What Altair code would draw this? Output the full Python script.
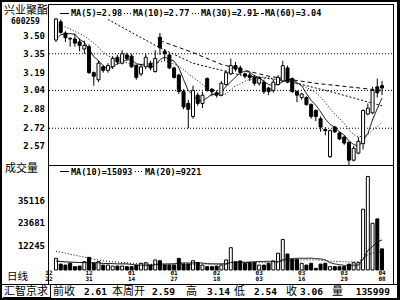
import altair as alt
import pandas as pd

# ---- daily candles (2004-12-22 .. 2005-04-08) ----
opens = [3.466, 3.62, 3.525, 3.48, 3.475, 3.45, 3.39, 3.41, 3.19, 3.13,
         3.24, 3.21, 3.24, 3.32, 3.27, 3.34, 3.33, 3.25, 3.18, 3.24,
         3.27, 3.20, 3.49, 3.37, 3.34, 3.23, 3.17, 3.03, 2.93, 2.82,
         3.00, 2.93, 3.14, 3.05, 3.02, 3.00, 3.09, 3.18, 3.25, 3.23,
         3.18, 3.17, 3.15, 3.10, 3.11, 3.06, 3.04, 3.09, 3.12, 3.23,
         3.14, 3.03, 2.98, 2.98, 2.92, 2.87, 2.80, 2.71, 2.48, 2.73,
         2.68, 2.645, 2.60, 2.45, 2.51, 2.59, 2.84, 2.85, 3.07, 3.08]
highs = [3.65, 3.64, 3.54, 3.49, 3.52, 3.48, 3.46, 3.43, 3.20, 3.29,
         3.25, 3.27, 3.33, 3.34, 3.38, 3.36, 3.35, 3.26, 3.26, 3.35,
         3.29, 3.38, 3.525, 3.39, 3.36, 3.24, 3.18, 3.05, 2.96, 3.08,
         3.02, 3.03, 3.15, 3.06, 3.04, 3.12, 3.21, 3.31, 3.28, 3.25,
         3.19, 3.19, 3.17, 3.16, 3.13, 3.07, 3.13, 3.17, 3.29, 3.25,
         3.15, 3.04, 3.02, 2.99, 2.93, 2.88, 2.82, 2.73, 2.71, 2.74,
         2.69, 2.66, 2.61, 2.57, 2.645, 2.88, 2.93, 3.07, 3.14, 3.12]
lows = [3.45, 3.52, 3.45, 3.41, 3.41, 3.37, 3.35, 3.18, 3.08, 3.11,
        3.19, 3.19, 3.22, 3.26, 3.26, 3.29, 3.23, 3.13, 3.16, 3.22,
        3.21, 3.19, 3.34, 3.29, 3.22, 3.14, 3.01, 2.88, 2.72, 2.80,
        2.91, 2.89, 3.03, 2.99, 2.98, 2.99, 3.08, 3.17, 3.20, 3.17,
        3.14, 3.12, 3.08, 3.08, 3.01, 3.00, 3.02, 3.08, 3.11, 3.10,
        3.02, 2.94, 2.96, 2.91, 2.80, 2.78, 2.69, 2.66, 2.47, 2.68,
        2.62, 2.58, 2.41, 2.44, 2.50, 2.54, 2.83, 2.84, 2.98, 3.00]
closes = [3.644, 3.53, 3.485, 3.475, 3.44, 3.42, 3.42, 3.19, 3.16, 3.27,
          3.21, 3.25, 3.31, 3.28, 3.35, 3.31, 3.24, 3.15, 3.24, 3.32,
          3.23, 3.31, 3.40, 3.35, 3.23, 3.15, 3.03, 2.90, 2.88, 3.04,
          2.93, 3.00, 3.04, 3.03, 3.00, 3.10, 3.19, 3.25, 3.22, 3.19,
          3.16, 3.15, 3.10, 3.14, 3.03, 3.03, 3.11, 3.15, 3.25, 3.11,
          3.03, 3.00, 3.01, 2.92, 2.82, 2.82, 2.73, 2.70, 2.70, 2.69,
          2.63, 2.595, 2.45, 2.55, 2.61, 2.87, 2.89, 3.04, 3.02, 3.06]
volumes = [5900, 3000, 2500, 3400, 1700, 2000, 4200, 6400, 3400, 4200,
           2500, 2500, 2000, 2000, 2000, 1700, 1700, 2500, 3400, 3700,
           2500, 5100, 4700, 2500, 2500, 2500, 5900, 3000, 3000, 4700,
           3700, 2500, 1700, 1700, 2000, 2500, 5100, 11300, 4200, 4600,
           3400, 3700, 3700, 2500, 2500, 3400, 4600, 8500, 15500, 8100,
           5400, 5400, 3400, 2500, 3400, 850, 3000, 3400, 1700, 1700,
           1700, 1700, 3000, 3700, 3700, 30800, 47400, 23700, 25900, 10700]

# moving-average values at the start of the window (they use earlier days)
ma5_early = [3.47, 3.51, 3.52, 3.52]
ma10_early = [3.60, 3.59, 3.575, 3.56, 3.54, 3.52, 3.50, 3.47, 3.44]
vma10_early = [4500, 4300, 4100, 4000, 3900, 3800, 3750, 3700, 3700]
vma20_early = [9500, 9000, 8500, 8000, 7500, 7000, 6500, 6000, 5500, 5000,
               4700, 4400, 4200, 4000, 3800, 3600, 3400, 3300, 3200]
# longer averages
ma30_idx = [11, 16, 22, 29, 39, 49, 59, 69]
ma30_val = [3.64, 3.53, 3.40, 3.27, 3.17, 3.12, 3.02, 2.91]
ma60_idx = [22, 29, 35, 45, 55, 62, 69]
ma60_val = [3.46, 3.36, 3.26, 3.16, 3.10, 3.07, 3.04]

# axis labels
price_ticks = [3.50, 3.35, 3.19, 3.04, 2.88, 2.72, 2.57]
price_grid = [3.35, 3.04, 2.72]
vol_ticks = [35116, 23681, 12245]
date_idx = [-1.5, 7, 16, 25, 34, 43, 52, 61, 69]
date_mon = ["12", "12", "01", "01", "02", "03", "03", "03", "04"]
date_day = ["22", "31", "14", "27", "18", "03", "16", "29", "08"]

df = pd.DataFrame({"i": list(range(len(closes))), "open": opens, "high": highs,
                   "low": lows, "close": closes, "vol": volumes})
c = pd.Series(closes)
v = pd.Series(volumes, dtype=float)
df["ma5"] = c.rolling(5).mean()
df.loc[:len(ma5_early) - 1, "ma5"] = ma5_early
df["ma10"] = c.rolling(10).mean()
df.loc[:len(ma10_early) - 1, "ma10"] = ma10_early
df["vma10"] = v.rolling(10).mean()
df.loc[:len(vma10_early) - 1, "vma10"] = vma10_early
df["vma20"] = v.rolling(20).mean()
df.loc[:len(vma20_early) - 1, "vma20"] = vma20_early

ma30 = pd.DataFrame({"i": ma30_idx, "v": ma30_val})
ma60 = pd.DataFrame({"i": ma60_idx, "v": ma60_val})
ptick = pd.DataFrame({"p": price_ticks})
pgrid = pd.DataFrame({"p": price_grid})
vtick = pd.DataFrame({"v": vol_ticks})
dates = pd.DataFrame({"i": date_idx, "m": date_mon, "d": date_day})
one = pd.DataFrame({"a": [0]})

MONO = "DejaVu Sans Mono"
CJK = "Noto Sans CJK SC"

xs = alt.Scale(domain=[-10.79, 71.75], nice=False, zero=False)
ps = alt.Scale(domain=[2.57, 3.50], range=[146, 36], nice=False, zero=False)
vs = alt.Scale(domain=[0, 35116], range=[270, 200.7], nice=False, zero=False)
X = alt.X("i:Q", scale=xs, axis=None)

up = "datum.close >= datum.open"

wick = alt.Chart(df).mark_rule(color="black", strokeWidth=1).encode(
    x=X, y=alt.Y("low:Q", scale=ps, axis=None), y2="high:Q")
body = alt.Chart(df).mark_bar(size=3, stroke="black", strokeWidth=1).encode(
    x=X, y=alt.Y("open:Q", scale=ps, axis=None), y2="close:Q",
    fill=alt.condition(up, alt.value("white"), alt.value("black")))


def line(data, field, scale, dash):
    return alt.Chart(data).mark_line(color="black", strokeWidth=1, strokeDash=dash).encode(
        x=X, y=alt.Y(f"{field}:Q", scale=scale, axis=None))


ma5_l = line(df, "ma5", ps, [1, 0])
ma10_l = line(df, "ma10", ps, [1, 2])
ma30_l = line(ma30, "v", ps, [2, 2])
ma60_l = line(ma60, "v", ps, [4, 3])

grid = alt.Chart(pgrid).mark_rule(color="black", strokeWidth=1, strokeDash=[1, 2]).encode(
    y=alt.Y("p:Q", scale=ps, axis=None), x=alt.value(49), x2=alt.value(392))

plab = alt.Chart(ptick).mark_text(align="right", baseline="middle", font=MONO,
                                  fontWeight="bold", fontSize=9).encode(
    y=alt.Y("p:Q", scale=ps, axis=None), x=alt.value(45),
    text=alt.Text("p:Q", format=".2f"))

vbar = alt.Chart(df).mark_bar(size=3, stroke="black", strokeWidth=1).encode(
    x=X, y=alt.Y("vol:Q", scale=vs, axis=None),
    fill=alt.condition(up, alt.value("white"), alt.value("black")))

vma10_l = line(df, "vma10", vs, [1, 0])
vma20_l = line(df, "vma20", vs, [1, 2])

vlab = alt.Chart(vtick).mark_text(align="right", baseline="middle", font=MONO,
                                  fontWeight="bold", fontSize=9).encode(
    y=alt.Y("v:Q", scale=vs, axis=None), x=alt.value(45), text="v:Q")

dm = alt.Chart(dates).mark_text(align="center", baseline="middle", font=MONO,
                                fontWeight="bold", fontSize=6).encode(
    x=X, y=alt.value(273), text="m:N")
dd = alt.Chart(dates).mark_text(align="center", baseline="middle", font=MONO,
                                fontWeight="bold", fontSize=6).encode(
    x=X, y=alt.value(279), text="d:N")


def txt(s, x, y, font=MONO, size=8.5, weight="bold", align="left"):
    return alt.Chart(one).mark_text(align=align, baseline="middle", font=font,
                                    fontSize=size, fontWeight=weight).encode(
        x=alt.value(x), y=alt.value(y), text=alt.value(s))


def hline(x1, x2, y, w=1, dash=(1, 0)):
    return alt.Chart(one).mark_rule(color="black", strokeWidth=w, strokeDash=list(dash)).encode(
        x=alt.value(x1), x2=alt.value(x2), y=alt.value(y))


def vline(x, y1, y2, w=1):
    return alt.Chart(one).mark_rule(color="black", strokeWidth=w).encode(
        x=alt.value(x), y=alt.value(y1), y2=alt.value(y2))


frame = [
    hline(0, 400, 1, 2), hline(0, 400, 299, 2), vline(1, 0, 300, 2), vline(398.5, 0, 300, 3),
    hline(48, 394, 4.5), vline(393.5, 4, 284), vline(48.5, 4, 284),
    hline(48, 394, 165.5), hline(0, 400, 284.5),
    vline(50.5, 284, 298), hline(3, 51, 297.5),
]

# legend line samples
keys = [
    hline(60, 69, 13.5), hline(124, 132, 13.5, dash=(1, 2)),
    hline(192, 200, 13.5, dash=(1, 2)), hline(256, 264, 13.5, dash=(3, 2)),
    hline(60, 69, 171.5), hline(135, 143, 171.5, dash=(1, 2)),
]

texts = [
    txt("兴业聚酯", 4, 11, font=CJK, size=11, weight="normal"),
    txt("600259", 11, 22, size=8),
    txt("MA(5)=2.98", 71, 13),
    txt("MA(10)=2.77", 133, 13),
    txt("MA(30)=2.91", 201, 13),
    txt("MA(60)=3.04", 265, 13),
    txt("成交量", 5, 169, font=CJK, size=11, weight="normal"),
    txt("MA(10)=15093", 71, 172),
    txt("MA(20)=9221", 145, 172),
    txt("日线", 7, 276.5, font=CJK, size=10.5, weight="normal"),
    txt("汇智京求", 4, 291.5, font=CJK, size=11, weight="normal"),
    txt("前收", 53, 291.5, font=CJK, size=11, weight="normal"),
    txt("2.61", 107, 291.5, size=9.5, align="right"),
    txt("本周开", 112, 291.5, font=CJK, size=11, weight="normal"),
    txt("2.59", 175, 291.5, size=9.5, align="right"),
    txt("高", 186, 291.5, font=CJK, size=11, weight="normal"),
    txt("3.14", 230, 291.5, size=9.5, align="right"),
    txt("低", 234, 291.5, font=CJK, size=11, weight="normal"),
    txt("2.54", 277, 291.5, size=9.5, align="right"),
    txt("收", 286, 291.5, font=CJK, size=11, weight="normal"),
    txt("3.06", 323, 291.5, size=9.5, align="right"),
    txt("量", 332, 291.5, font=CJK, size=11, weight="normal"),
    txt("135999", 390, 291.5, size=9.5, align="right"),
]

chart = alt.layer(
    grid, ma60_l, ma30_l, ma10_l, ma5_l, wick, body, plab,
    vbar, vma20_l, vma10_l, vlab, dm, dd, *frame, *keys, *texts
).resolve_scale(y="independent").properties(
    width=400, height=300, autosize="none", padding=0, background="white"
).configure_view(stroke=None)

chart.save("out.html", embed_options={"renderer": "svg", "actions": False})
